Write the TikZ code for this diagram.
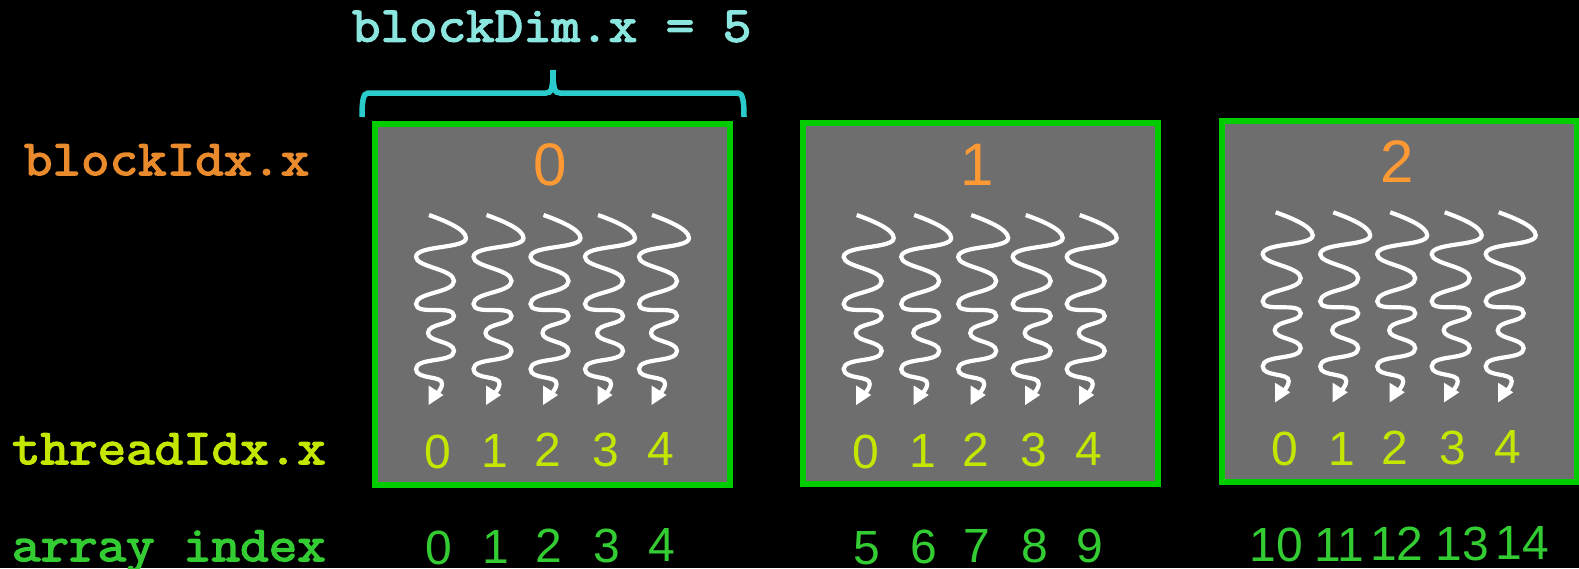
\documentclass[tikz,border=0pt]{standalone}
\usepackage{fontspec}
\setmainfont{Liberation Sans}
\newfontfamily\codefont[FakeBold=3,FakeStretch=1.108]{Latin Modern Mono}
\definecolor{bgrey}{HTML}{6E6E6E}
\definecolor{bgreen}{HTML}{00CC00}
\definecolor{lorange}{HTML}{E98B2D}
\definecolor{dorange}{HTML}{FF9933}
\definecolor{lime}{HTML}{C4E600}
\definecolor{agreen}{HTML}{33CC33}
\definecolor{lcyan}{HTML}{8CE6E0}
\definecolor{bcyan}{HTML}{2BCBCB}
\tikzset{
  x=1pt,y=-1pt,
  blockbox/.style={draw=bgreen,fill=bgrey,line width=6pt,minimum width=355pt,minimum height=361pt,inner sep=0pt,outer sep=0pt,anchor=north west},
  codelabel/.style={anchor=base west,inner sep=0pt,outer sep=0pt,font=\fontsize{50}{50}\selectfont\codefont},
  digit/.style={anchor=base,inner sep=0pt,outer sep=0pt,font=\fontsize{48}{48}\selectfont},
  bigdigit/.style={anchor=base,inner sep=0pt,outer sep=0pt,font=\fontsize{60}{60}\selectfont,text=dorange},
  limedigit/.style={digit,text=lime},
  arraydigit/.style={digit,text=agreen},
  thread/.pic={
    \draw[white,line width=4.2pt]
      (0,0) .. controls (14,5) and (37,14) .. (37,23)
      .. controls (37,34) and (-13,30) .. (-13,42)
      .. controls (-13,52) and (25,54) .. (25,66)
      .. controls (25,78) and (-13,77) .. (-13,89)
      .. controls (-13,101) and (25,89) .. (25,101)
      .. controls (25,110) and (-1,108) .. (-1,118)
      .. controls (-1,127) and (25,126) .. (25,136)
      .. controls (25,148) and (-13,142) .. (-13,154)
      .. controls (-13,165) and (14,160) .. (13,169)
      .. controls (13,172) and (11,175) .. (8,179);
    \fill[white] (-0.5,170.5) -- (14.5,180) -- (-0.5,190) -- cycle;
  }
}
\newcommand{\threads}[2]{%
  \foreach \dx in {0,57.5,114.5,169,223}
    \pic at ({#1+\dx},#2) {thread};}
\begin{document}
\begin{tikzpicture}
\useasboundingbox (0,0) rectangle (1579,568);
\fill[black] (0,0) rectangle (1579,568);

\node[blockbox] (blockA) at (375,123.5) {};
\node[blockbox] (blockB) at (803,123) {};
\node[blockbox] (blockC) at (1222,121) {};

\threads{429}{215}
\threads{856.7}{215}
\threads{1275.7}{212.3}

\draw[bcyan,line width=5.5pt]
  (362,117) .. controls (362,102) and (363,93) .. (368,93)
  -- (546,93) .. controls (551,93) and (553,90) .. (553,70);
\draw[bcyan,line width=5.5pt]
  (744,117) .. controls (744,102) and (743,93) .. (738,93)
  -- (560,93) .. controls (555,93) and (553,90) .. (553,70);

\node[codelabel,text=lcyan] (dimlabel) at (352,41.5) {blockDim.x = 5};
\node[codelabel,text=lorange] (blocklabel) at (24,175) {blockIdx.x};
\node[codelabel,text=lime] (threadlabel) at (12,464) {threadIdx.x};
\node[codelabel,text=agreen] (arraylabel) at (12,561) {array index};

\node[bigdigit] (bA) at (550,185.7) {0};
\node[bigdigit] (bB) at (977,185) {1};
\node[bigdigit] (bC) at (1397,182.7) {2};

\node[limedigit] (ta0) at (438.3,468) {0};
\node[limedigit] (ta1) at (494.5,467.7) {1};
\node[limedigit] (ta2) at (547.7,466.7) {2};
\node[limedigit] (ta3) at (605.7,466) {3};
\node[limedigit] (ta4) at (661,465.7) {4};

\node[limedigit] (tb0) at (866,468.3) {0};
\node[limedigit] (tb1) at (922.5,467) {1};
\node[limedigit] (tb2) at (975.7,466) {2};
\node[limedigit] (tb3) at (1033.7,466) {3};
\node[limedigit] (tb4) at (1089,465) {4};

\node[limedigit] (tc0) at (1285,465) {0};
\node[limedigit] (tc1) at (1342,465) {1};
\node[limedigit] (tc2) at (1395,464) {2};
\node[limedigit] (tc3) at (1452.7,464) {3};
\node[limedigit] (tc4) at (1508.3,463.3) {4};

\node[arraydigit] (aa0) at (439.3,564) {0};
\node[arraydigit] (aa1) at (495.5,563.5) {1};
\node[arraydigit] (aa2) at (548.7,562.7) {2};
\node[arraydigit] (aa3) at (607,562) {3};
\node[arraydigit] (aa4) at (662.3,561.3) {4};

\node[arraydigit] (ab0) at (867,564) {5};
\node[arraydigit] (ab1) at (924,563.5) {6};
\node[arraydigit] (ab2) at (977,562.7) {7};
\node[arraydigit] (ab3) at (1035,562.5) {8};
\node[arraydigit] (ab4) at (1090,562.7) {9};

\node[arraydigit] (ac0) at (1276,561.7) {10};
\node[arraydigit] (ac1) at (1339,561) {11};
\node[arraydigit] (ac2) at (1396.7,560.5) {12};
\node[arraydigit] (ac3) at (1462,560) {13};
\node[arraydigit] (ac4) at (1522,559.3) {14};
\end{tikzpicture}
\end{document}
